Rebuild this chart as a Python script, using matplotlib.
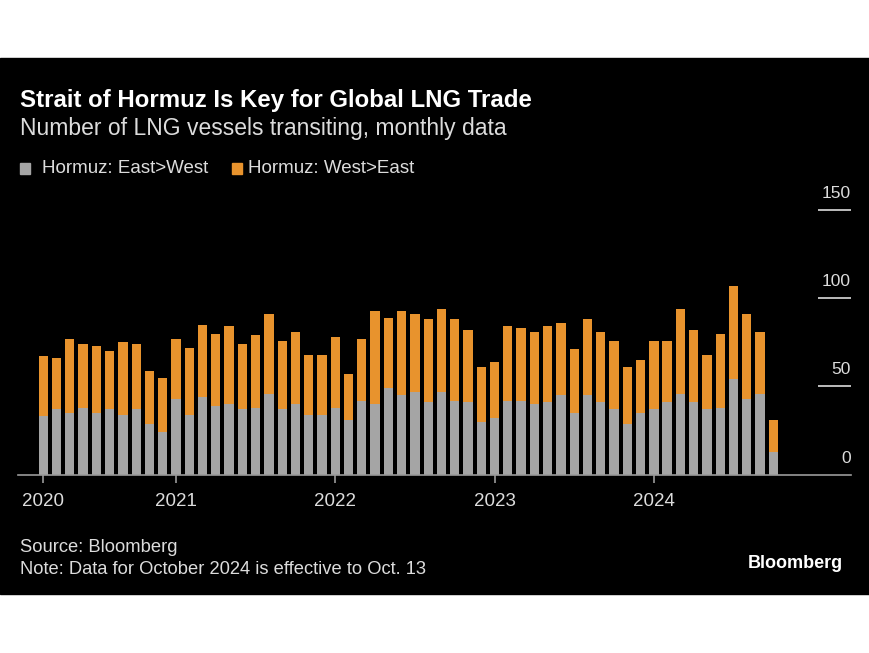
import numpy as np
import pandas as pd
import matplotlib.pyplot as plt
from matplotlib.patches import Rectangle

# Monthly data, March 2020 - October 2024
months = pd.date_range('2020-03-01', '2024-10-01', freq='MS')
east_west = [33, 37, 35, 38, 35, 37, 34, 37, 29, 24,
             43, 34, 44, 39, 40, 37, 38, 46, 37, 40, 34, 34,
             38, 31, 42, 40, 49, 45, 47, 41, 47, 42, 41, 30,
             32, 42, 42, 40, 41, 45, 35, 45, 41, 37, 29, 35,
             37, 41, 46, 41, 37, 38, 54, 43, 46, 13]
west_east = [34, 29, 42, 36, 38, 33, 41, 37, 30, 31,
             34, 38, 41, 41, 44, 37, 41, 45, 39, 41, 34, 34,
             40, 26, 35, 53, 40, 48, 44, 47, 47, 46, 41, 31,
             32, 42, 41, 41, 43, 41, 36, 43, 40, 39, 32, 30,
             39, 35, 48, 41, 31, 42, 53, 48, 35, 18]
y_ticks = [0, 50, 100, 150]

GRAY = '#a5a5a5'
ORANGE = '#e8932d'
TXT = '#dcdcdc'
FONT = ['Liberation Sans Narrow', 'Liberation Sans', 'DejaVu Sans']
plt.rcParams['font.family'] = FONT

W, H = 870, 653
fig = plt.figure(figsize=(W / 100, H / 100), dpi=100, facecolor='white')
fig.patches.append(Rectangle((0, 1 - 594 / H), 1, (594 - 58) / H,
                             transform=fig.transFigure, color='black', zorder=-10))

ax = fig.add_axes([18 / W, 1 - 474.7 / H, (851 - 18) / W, (474.7 - 210) / H], zorder=2)
ax.set_facecolor('none')
x = np.arange(len(months))
ax.bar(x, east_west, width=0.7, color=GRAY, label='Hormuz: East>West')
ax.bar(x, west_east, width=0.7, bottom=east_west, color=ORANGE, label='Hormuz: West>East')
ax.set_xlim(-1.9, 60.85)
ax.set_ylim(0, 150)

for s in ['top', 'right', 'left']:
    ax.spines[s].set_visible(False)
ax.spines['bottom'].set_color('#9a9a9a')
ax.spines['bottom'].set_linewidth(1.2)
ax.set_yticks([])

year_pos = [0] + [i for i, m in enumerate(months) if m.month == 1]
year_lab = [str(months[i].year) for i in year_pos]
ax.set_xticks(year_pos)
ax.set_xticklabels(year_lab, fontsize=13.5, color=TXT)
ax.tick_params(axis='x', colors='#9a9a9a', length=6, width=1.2, pad=7, labelcolor=TXT)

# short right-hand gridlines with labels above
for v in y_ticks:
    if v > 0:
        ax.hlines(v, 0.96, 1.0, transform=ax.get_yaxis_transform(), color=TXT, lw=1.2,
                  clip_on=False)
    ax.annotate(str(v), xy=(1.0, v), xycoords=ax.get_yaxis_transform(),
                xytext=(0, 12), textcoords='offset points', ha='right', va='center',
                fontsize=12.5, color=TXT)

fig.text(20 / W, 1 - 101 / H, 'Strait of Hormuz Is Key for Global LNG Trade',
         fontsize=17.3, fontweight='bold', color='white', va='center')
fig.text(20 / W, 1 - 128 / H, 'Number of LNG vessels transiting, monthly data',
         fontsize=16.5, color=TXT, va='center')

# legend
fig.patches.append(Rectangle((20 / W, 1 - 174 / H), 10 / W, 11 / H,
                             transform=fig.transFigure, color=GRAY))
fig.text(42 / W, 1 - 168.5 / H, 'Hormuz: East>West', fontsize=13.5, color=TXT, va='center')
fig.patches.append(Rectangle((232 / W, 1 - 174 / H), 10 / W, 11 / H,
                             transform=fig.transFigure, color=ORANGE))
fig.text(248 / W, 1 - 168.5 / H, 'Hormuz: West>East', fontsize=13.5, color=TXT, va='center')

fig.text(20 / W, 1 - 548 / H, 'Source: Bloomberg', fontsize=13.2, color=TXT, va='center')
fig.text(20 / W, 1 - 569 / H, 'Note: Data for October 2024 is effective to Oct. 13',
         fontsize=13.2, color=TXT, va='center')
fig.text(843 / W, 1 - 564 / H, 'Bloomberg', fontsize=13, fontweight='bold',
         color='white', va='center', ha='right')

fig.savefig('out.png', dpi=100, facecolor='white')
